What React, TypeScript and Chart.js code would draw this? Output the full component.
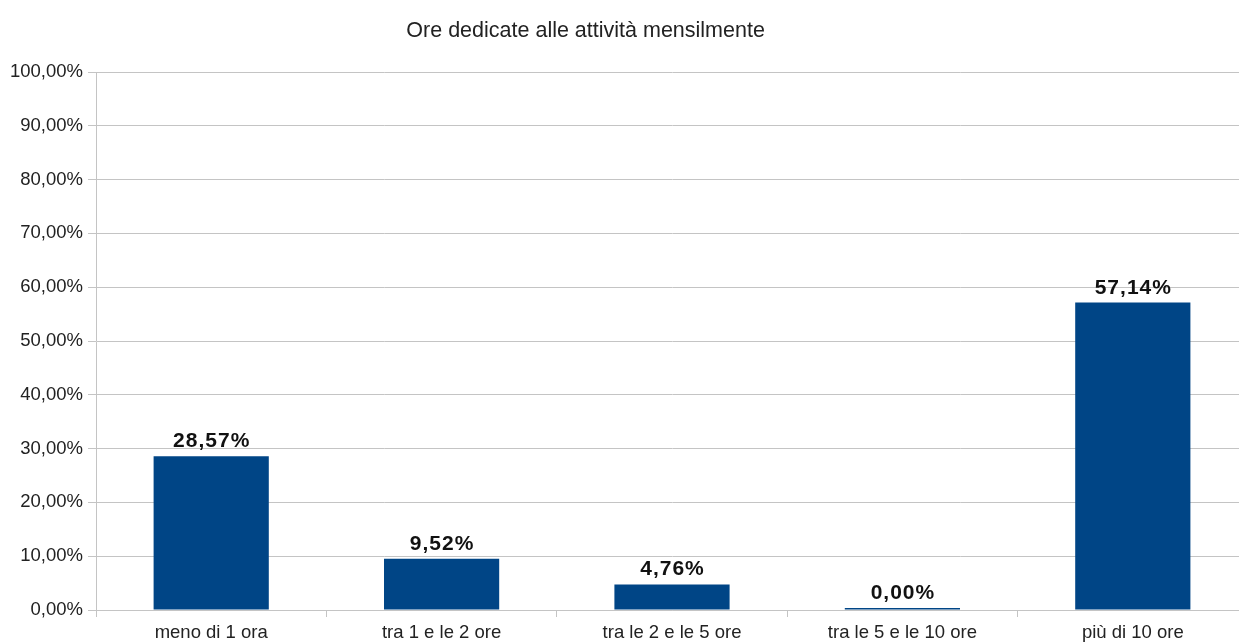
import React, { useEffect, useRef } from "react";
import { Chart, registerables } from "chart.js";

Chart.register(...registerables);

const TITLE = "Ore dedicate alle attività mensilmente";
const categories = [
  "meno di 1 ora",
  "tra 1 e le 2 ore",
  "tra le 2 e le 5 ore",
  "tra le 5 e le 10 ore",
  "più di 10 ore",
];
const percentages = [28.57, 9.52, 4.76, 0, 57.14];
const yMin = 0;
const yMax = 100;
const yStep = 10;

const fmt = (v: number) => v.toFixed(2).replace(".", ",") + "%";

const BAR_COLOR = "#004586";
const GRID_COLOR = "#c4c4c4";
const TEXT_COLOR = "#222222";

const labelsPlugin = {
  id: "valueLabels",
  afterDatasetsDraw(chart: any) {
    const ctx = chart.ctx;
    const meta = chart.getDatasetMeta(0);
    ctx.save();
    ctx.font = "bold 21px 'Liberation Sans'";
    try {
      (ctx as any).letterSpacing = "1px";
    } catch (e) {}
    ctx.fillStyle = "#111111";
    ctx.textAlign = "center";
    ctx.textBaseline = "alphabetic";
    meta.data.forEach((bar: any, i: number) => {
      const v = chart.data.datasets[0].data[i] as number;
      ctx.fillText(fmt(v), bar.x + 0.5, Math.min(bar.y, bar.base) - 9);
    });
    ctx.restore();
  },
};

const titlePlugin = {
  id: "customTitle",
  afterDraw(chart: any) {
    const ctx = chart.ctx;
    ctx.save();
    ctx.font = "21.5px 'Liberation Sans'";
    ctx.fillStyle = TEXT_COLOR;
    ctx.textAlign = "center";
    ctx.textBaseline = "alphabetic";
    const x = chart.chartArea.left + (chart.chartArea.right - chart.chartArea.left) * 0.425;
    ctx.fillText(TITLE, x, 37);
    ctx.restore();
  },
};

export default function App() {
  const ref = useRef<HTMLCanvasElement>(null);
  useEffect(() => {
    document.body.style.margin = "0";
    document.body.style.overflow = "hidden";
    document.body.style.background = "#ffffff";
    const chart = new Chart(ref.current!, {
      type: "bar",
      data: {
        labels: categories,
        datasets: [
          {
            data: percentages,
            backgroundColor: BAR_COLOR,
            borderColor: BAR_COLOR,
            borderWidth: 0,
            barPercentage: 0.5,
            categoryPercentage: 1,
            minBarLength: 2,
          },
        ],
      },
      options: {
        animation: false,
        responsive: false,
        maintainAspectRatio: false,
        layout: { padding: { top: 72, right: 12, left: 0, bottom: 0 } },
        plugins: {
          legend: { display: false },
          title: { display: false },
          tooltip: { enabled: false },
        },
        scales: {
          x: {
            offset: true,
            grid: {
              offset: true,
              drawOnChartArea: false,
              drawTicks: true,
              tickLength: 7,
              color: GRID_COLOR,
            },
            border: { color: GRID_COLOR, width: 1 },
            ticks: {
              color: TEXT_COLOR,
              font: { family: "'Liberation Sans'", size: 18.5 },
              padding: 5,
              maxRotation: 0,
              autoSkip: false,
            },
            afterFit: (scale: any) => {
              scale.height = 32;
            },
          },
          y: {
            min: yMin,
            max: yMax,
            grid: {
              color: GRID_COLOR,
              tickLength: 8,
              drawTicks: true,
            },
            border: { color: GRID_COLOR, width: 1 },
            ticks: {
              stepSize: yStep,
              color: TEXT_COLOR,
              font: { family: "'Liberation Sans'", size: 18.5 },
              padding: 5,
              callback: (v: any) => fmt(Number(v)),
            },
            afterFit: (scale: any) => {
              scale.width = 96;
            },
          },
        },
      },
      plugins: [labelsPlugin, titlePlugin],
    });
    return () => chart.destroy();
  }, []);
  return (
    <div style={{ width: 1260, height: 642, overflow: "hidden" }}>
      <canvas ref={ref} width={1260} height={642} style={{ display: "block" }} />
    </div>
  );
}
